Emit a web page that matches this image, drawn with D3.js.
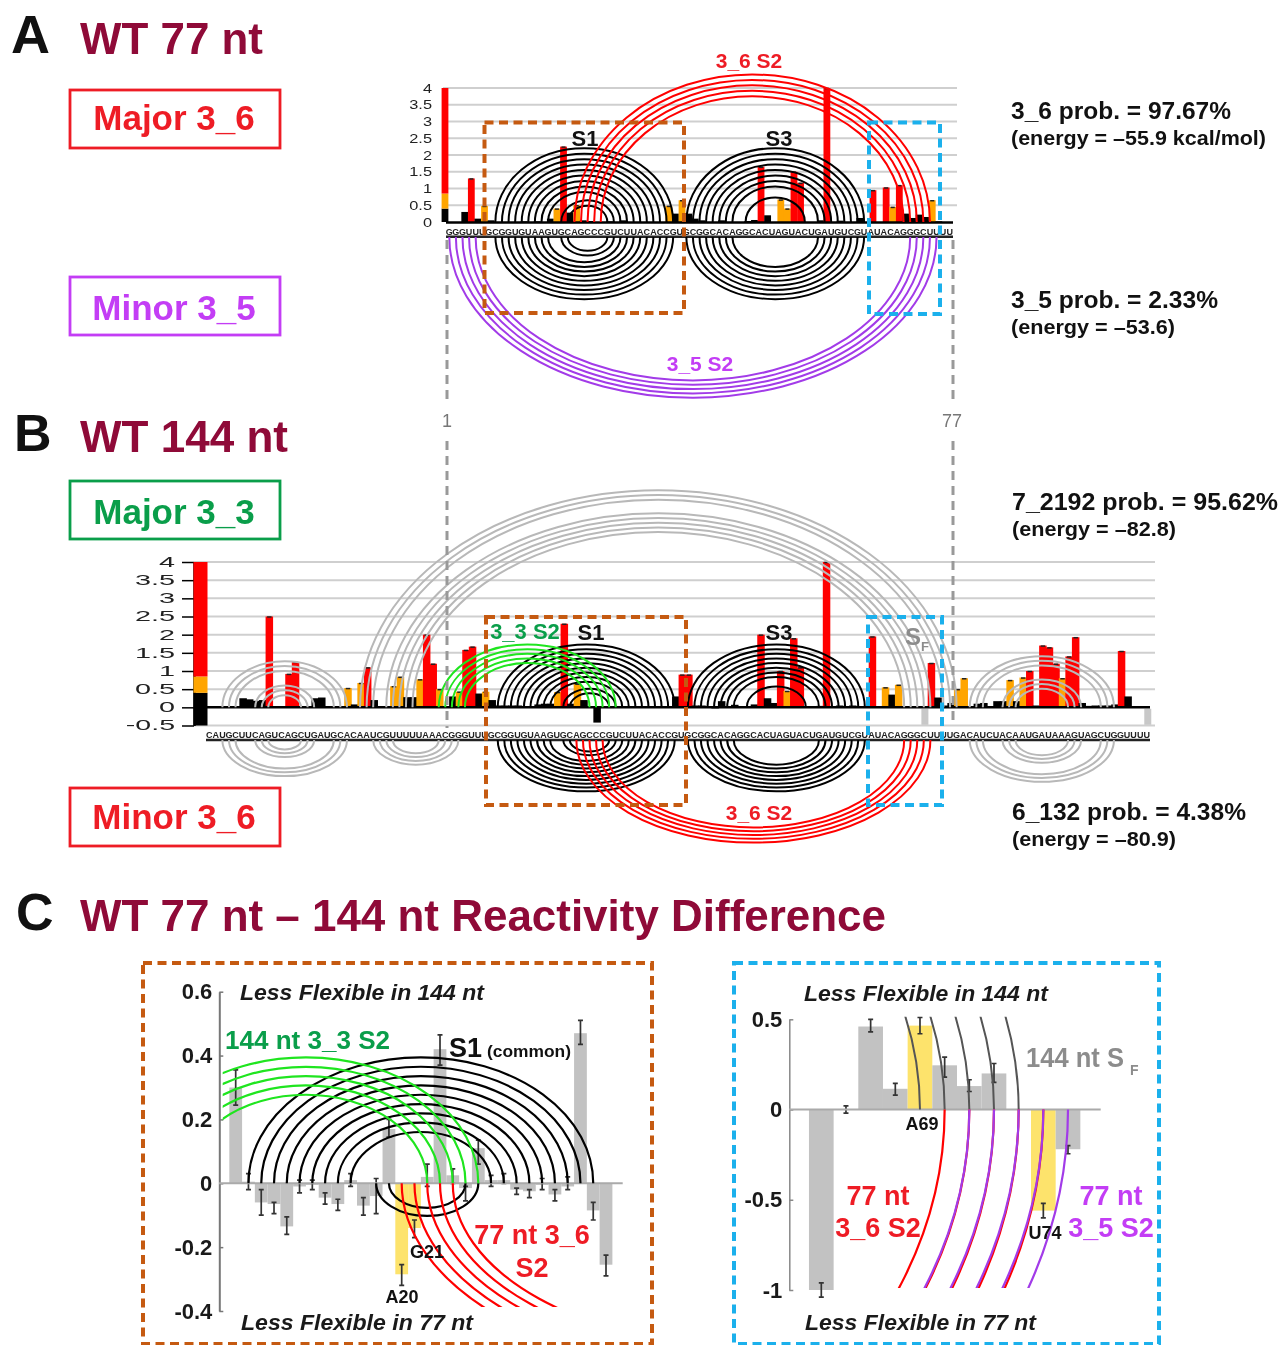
<!DOCTYPE html>
<html><head><meta charset="utf-8">
<script src="https://cdn.jsdelivr.net/npm/d3@7"></script>
<style>
html,body{margin:0;padding:0;background:#fff}
svg{display:block;filter:blur(0.5px)}
text{font-family:"Liberation Sans",Arial,sans-serif}
</style></head><body>
<svg id="c" width="1282" height="1345"></svg>
<script>
// ---------- sequences ----------
const seqPrefix = "CAUGCUUCAGUCAGCUGAUGCACAAUCGUUUUUAAAC";
const seq77 = "GGGUUUGCGGUGUAAGUGCAGCCCGUCUUACACCGUGCGGCACAGGCACUAGUACUGAUGUCGUAUACAGGGCUUUU";
const seqSuffix = "GACAUCUACAAUGAUAAAGUAGCUGGUUUU";
const seq144 = seqPrefix + seq77 + seqSuffix;

// ---------- panel A reactivities (nt, value) ----------
const ntA  = [4,5,6,7,8,13,15,17,18,19,20,21,22,23,26,28,35,36,37,38,39,40,43,47,48,49,50,52,53,54,55,58,59,61,64,66,68,69,70,71,72,73,74,75,76];
const valA = [.3,1.3,.1,.48,.05,.02,.02,.1,.4,2.25,.28,.5,.05,.03,.02,.05,.48,.25,.65,.25,.1,.05,.05,.03,.06,1.65,.2,.67,.4,1.5,1.17,.05,4,.04,.12,.95,1.03,.45,1.1,.25,.12,.22,.15,.65,.02];

// ---------- panel B reactivities (nt, value) ----------
const ntB  = [3,4,7,8,9,10,11,12,13,14,15,18,19,23,24,25,26,27,29,30,31,32,33,34,35,36,37,39,40,41,42,43,44,45,46,47,48,49,52,53,54,55,56,57,58,59,61,63,73,74,75,76,77,79,80,82,85,86,87,88,89,90,91,92,95,96,98,100,103,104,105,106,107,109,110,112,113,114,115,116,117,119,120,122,123,124,125,126,127,128,129,130,131,132,133,134,135,136,137,138,139,140,141,142,143];
const valB = [.02,.02,.25,.22,.18,.2,2.5,.03,.03,.92,1.25,.25,.27,.53,.08,.67,1.1,.2,.02,.58,.84,.28,.28,.77,2,1.2,.5,.3,.43,1.58,1.67,.38,.43,.2,.05,.05,.05,.05,.08,.1,.1,.42,2.3,.1,.65,.2,-.42,-.02,.3,.9,.9,.05,.05,-.03,.17,.07,.08,2,.25,.12,1,.45,1.9,1.1,.04,4,.05,.05,1.95,.02,.55,.35,.62,.02,.02,1.22,.27,.05,.12,.5,.8,.1,.12,.17,.17,.75,.17,.82,1,.05,1.7,1.65,1.2,.8,1.4,1.93,.12,.04,.05,.05,.05,.08,1.55,.3,.02];
const ntBNoData = [111,145];
const valBNoData = [-.48,-.48];

const tickA = [0,.5,1,1.5,2,2.5,3,3.5,4];
const tickB = [-.5,0,.5,1,1.5,2,2.5,3,3.5,4];
const classBreaks = [.4,.85];
const classColors = ["#000","#ffa500","#ff0000"];

// ---------- base pairs (i,j in nt) ----------
const s1Pairs = [[8,35],[9,34],[10,33],[11,32],[12,31],[13,30],[14,29],[15,28],[16,27],[18,26],[19,25]];
const s3Pairs = [[37,64],[38,63],[39,62],[40,61],[41,60],[42,59],[43,58],[44,57]];
const s3Inner = [[46,55]];
const s36Pairs = [[20,74],[21,73],[22,72],[23,71],[24,70]];
const s35Pairs = [[1,75],[2,74],[3,73],[4,72],[5,71]];
const s33Pairs = [[36,63],[37,62],[38,61],[39,60],[40,59]];
const sfOuter  = [[24,115],[25,114],[26,113]];
const sfInner  = [[28,111],[29,110],[30,109],[31,108],[32,107]];
const sfInD    = [[-10,73],[-9,72],[-8,71],[-7,70],[-6,69]];
const leftHelix  = [[3,22],[4,21],[5,20],[8,17],[9,16],[10,15]];
const midHelix   = [[26,39],[27,38],[28,37],[29,36]];
const rightHelix = [[117,139],[118,138],[119,137],[122,134],[123,133],[124,132]];

// ---------- panel C data ----------
const ntC  = d3.range(7,37);
const difC = [.3,.005,-.06,-.065,-.135,-.01,-.005,-.045,-.065,.01,-.07,-.04,.17,-.285,-.14,.02,.42,.025,-.015,.11,.01,.01,-.02,-.025,-.005,-.035,-.01,.47,-.085,-.255];
const loC  = [.245,-.02,-.1,-.095,-.16,-.03,-.02,-.065,-.085,-.01,-.1,-.095,.145,-.32,-.17,-.01,.37,0,-.055,.06,-.01,0,-.035,-.045,-.02,-.055,-.02,.435,-.115,-.29];
const hiC  = [.355,.03,-.02,-.06,-.105,.01,.01,-.03,-.05,.03,-.045,.015,.2,-.255,-.115,.06,.465,.045,-.01,.135,.025,.03,-.015,-.02,.015,-.02,.02,.51,-.06,-.225];
const hiliteC = [20,21];
const ntD  = [65,66,67,68,69,70,71,72,74,75];
const difD = [-1,0,.46,.115,.465,.245,.13,.2,-.56,-.22];
const loD  = [-1.04,-.02,.43,.08,.42,.18,.1,.15,-.6,-.245];
const hiD  = [-.96,.02,.5,.145,.51,.29,.165,.255,-.52,-.2];
const hiliteD = [69,74];
const tickC = [-.4,-.2,0,.2,.4,.6];
const tickD = [-1,-.5,0,.5];

// ---------- helpers ----------
const svg = d3.select("#c");
const defs = svg.append("defs");
const clip = (id,x,y,w,h)=>defs.append("clipPath").attr("id",id).append("rect").attr("x",x).attr("y",y).attr("width",w).attr("height",h);
clip("cl",222.7,900,500,407);
clip("cr",222.7,900,500,407);
clip("dg",700,1016.7,500,200);
clip("dr",700,1100,500,188);

function label(x,y,t,o={}){
  const e = svg.append("text").attr("x",x).attr("y",y).text(t)
    .attr("font-size",o.size||20).attr("fill",o.color||"#111")
    .attr("font-weight",o.weight||"bold").attr("text-anchor",o.anchor||"start");
  if(o.italic) e.attr("font-style","italic");
  if(o.len) e.attr("textLength",o.len).attr("lengthAdjust","spacingAndGlyphs");
  return e;
}
function arcs(g,pairs,x,baseY,ratio,dir,color,w,clipId){
  const p = g.append("g");
  if(clipId) p.attr("clip-path",`url(#${clipId})`);
  p.selectAll("path").data(pairs).join("path")
   .attr("d",d=>{
     const a=x(d[0]),b=x(d[1]),rx=(b-a)/2,ry=rx*ratio;
     return `M${a},${baseY}A${rx},${ry} 0 0 ${dir<0?1:0} ${b},${baseY}`;
   }).attr("fill","none").attr("stroke",color).attr("stroke-width",w);
}
const colorOf = v => classColors[d3.bisect(classBreaks,v)];
function tickLen(d,size,st){
  const s=String(d);let n=0;
  for(const c of s) n+= c==="."?.318:c==="-"?.361:.636;
  return n*size*st;
}
function yAxis(g,y,ticks,x0,o){
  const ax = d3.axisLeft(y).tickValues(ticks).tickFormat(d=>String(d))
     .tickSize(o.tick).tickSizeOuter(0).tickPadding(o.pad);
  const a = g.append("g").attr("transform",`translate(${x0},0)`).call(ax);
  a.selectAll("text").attr("font-family",o.family).attr("font-size",o.size)
    .attr("font-weight",o.weight||"normal").attr("fill",o.fill||"#222");
  if(o.stretch) a.selectAll("text").attr("textLength",d=>tickLen(d,o.size,o.stretch)).attr("lengthAdjust","spacingAndGlyphs");
  a.select(".domain").attr("stroke",o.dom||"none").attr("stroke-width",o.domW||1);
  a.selectAll(".tick line").attr("stroke",o.tickC||"#000").attr("stroke-width",o.tickW||1);
  return a;
}
function drawBars(g,nts,vals,x,y,shift,w){
  const d = nts.map((n,i)=>({n,v:vals[i]}));
  g.selectAll(null).data(d).join("rect")
   .attr("x",e=>x(e.n)-shift-w/2).attr("width",w)
   .attr("y",e=>y(Math.max(e.v,0))).attr("height",e=>Math.abs(y(e.v)-y(0)))
   .attr("fill",e=>colorOf(e.v));
  g.selectAll(null).data(d.filter(e=>e.v>=.4)).join("line")
   .attr("x1",e=>x(e.n)-shift-w*.3).attr("x2",e=>x(e.n)-shift+w*.3)
   .attr("y1",e=>y(e.v)+.5).attr("y2",e=>y(e.v)+.5).attr("stroke","#222").attr("stroke-width",1.5);
}
function stacked(g,pos,x,y,shift,w,lo,top){
  const b=[lo,classBreaks[0],classBreaks[1],top];
  classColors.forEach((c,i)=>g.append("rect").attr("x",x(pos)-shift-w/2).attr("width",w)
    .attr("y",y(b[i+1])).attr("height",y(b[i])-y(b[i+1])).attr("fill",c));
}
function letters(g,seq,x,y){
  g.selectAll(null).data(Array.from(seq)).join("text")
   .attr("x",(d,i)=>x(i+1)).attr("y",y).attr("text-anchor","middle")
   .attr("font-size",9).attr("font-weight","bold").attr("fill","#222").text(d=>d);
}
function dashRect(x0,y0,x1,y1,c,w=4){
  svg.append("rect").attr("x",x0).attr("y",y0).attr("width",x1-x0).attr("height",y1-y0)
   .attr("fill","none").attr("stroke",c).attr("stroke-width",w).attr("stroke-dasharray","9 5.5");
}
function vdash(x,y0,y1){
  svg.append("line").attr("x1",x).attr("x2",x).attr("y1",y0).attr("y2",y1)
   .attr("stroke","#999").attr("stroke-width",3).attr("stroke-dasharray","9 6");
}
const RED="#ff0000",PUR="#a23be8",BLK="#000",GRN="#1fe51f",GRY="#b8b8b8";
const BROWN="#c55a11",BLUE="#1bb0ec",CRIM="#8f0a38";

// ---------- panel A ----------
const gA = svg.append("g");
const xA = d3.scaleLinear().domain([.5,77.5]).range([446,953]);
const yA = d3.scaleLinear().domain([0,4]).range([222,88]);
gA.selectAll(null).data(tickA.filter(d=>d>0)).join("line")
  .attr("x1",443).attr("x2",957).attr("y1",d=>yA(d)).attr("y2",d=>yA(d)).attr("stroke","#cfcfcf").attr("stroke-width",2);
yAxis(gA,yA,tickA,443,{tick:0,pad:11,family:"DejaVu Sans",size:13,stretch:1.1});
const bA = gA.append("g");
drawBars(bA,ntA,valA,xA,yA,4.3,6.8);
stacked(bA,1,xA,yA,4.3,6.8,0,4);
gA.append("line").attr("x1",446).attr("x2",953).attr("y1",222.5).attr("y2",222.5).attr("stroke","#000").attr("stroke-width",2.5);
gA.append("line").attr("x1",446).attr("x2",953).attr("y1",236.8).attr("y2",236.8).attr("stroke","#222").attr("stroke-width",2.5);
letters(gA,seq77,xA,235);
const at=.83, ab=.7;
arcs(gA,s1Pairs,xA,222,at,-1,BLK,2);
arcs(gA,s3Pairs.concat(s3Inner),xA,222,at,-1,BLK,2);
arcs(gA,s36Pairs,xA,222,at,-1,RED,2);
arcs(gA,s1Pairs,xA,237,ab,1,BLK,2);
arcs(gA,s3Pairs,xA,237,ab,1,BLK,2);
arcs(gA,s35Pairs,xA,237,.66,1,PUR,2);

// ---------- panel B ----------
const gB = svg.append("g");
const xB = d3.scaleLinear().domain([.5,144.5]).range([206,1150]);
const yB = d3.scaleLinear().domain([-.5,4]).range([725.5,562]);
gB.selectAll(null).data(tickB.filter(d=>d!==0)).join("line")
  .attr("x1",194).attr("x2",1155).attr("y1",d=>yB(d)).attr("y2",d=>yB(d)).attr("stroke","#cfcfcf").attr("stroke-width",2);
yAxis(gB,yB,tickB,194,{tick:12,pad:7,family:"DejaVu Sans",size:14,stretch:1.8,dom:"#000",domW:2.5,tickW:1.5});
const bB = gB.append("g");
drawBars(bB,ntB,valB,xB,yB,5.5,7.5);
stacked(bB,.5,xB,yB,5.5,14,-.5,4);
bB.selectAll(null).data(ntBNoData).join("rect")
  .attr("x",d=>xB(d)-5.5-3.5).attr("width",7).attr("y",yB(-.04))
  .attr("height",(d,i)=>yB(valBNoData[i])-yB(-.04)).attr("fill","#c8c8c8");
gB.append("line").attr("x1",194).attr("x2",1150).attr("y1",yB(0)).attr("y2",yB(0)).attr("stroke","#000").attr("stroke-width",2.5);
gB.append("line").attr("x1",206).attr("x2",1150).attr("y1",740).attr("y2",740).attr("stroke","#222").attr("stroke-width",2.5);
letters(gB,seq144,xB,738);
const bt=.71, bb=.58;
const off = 37, shiftP = p=>p.map(([i,j])=>[i+off,j+off]);
arcs(gB,sfOuter,xB,yB(0),.728,-1,GRY,2);
arcs(gB,sfInner,xB,yB(0),.713,-1,GRY,2);
arcs(gB,leftHelix,xB,yB(0),bt+.03,-1,GRY,2);
arcs(gB,rightHelix,xB,yB(0),bt,-1,GRY,2);
arcs(gB,shiftP(s1Pairs),xB,yB(0),bt,-1,BLK,2);
arcs(gB,shiftP(s3Pairs.concat(s3Inner)),xB,yB(0),bt,-1,BLK,2);
arcs(gB,s33Pairs,xB,yB(0),bt,-1,GRN,2);
arcs(gB,leftHelix,xB,740,bb,1,GRY,2);
arcs(gB,midHelix,xB,740,bb,1,GRY,2);
arcs(gB,rightHelix,xB,740,bb,1,GRY,2);
arcs(gB,shiftP(s1Pairs),xB,740,bb,1,BLK,2);
arcs(gB,shiftP(s3Pairs),xB,740,bb,1,BLK,2);
arcs(gB,shiftP(s36Pairs),xB,740,bb,1,RED,2);

// dashed guides
vdash(447,240,402); vdash(447,441,728);
vdash(953,240,402); vdash(953,441,724);
dashRect(484.5,122.5,684,313,BROWN); dashRect(869,122.5,940,314,BLUE);
dashRect(486,617,686,805,BROWN); dashRect(868,617,942,805,BLUE);

// ---------- panel C ----------
function diffPanel(g,nts,dif,lo,hi,hil,x,y,w,gray){
  const d=nts.map((n,i)=>({n,v:dif[i],lo:lo[i],hi:hi[i]}));
  g.selectAll(null).data(d).join("rect")
   .attr("x",e=>x(e.n)-w/2).attr("width",w)
   .attr("y",e=>y(Math.max(e.v,0))).attr("height",e=>Math.abs(y(e.v)-y(0)))
   .attr("fill",e=>hil.includes(e.n)?"#fde36c":gray);
  const p=g.append("g").attr("stroke","#333").attr("stroke-width",1.7);
  p.selectAll(null).data(d).join("path")
   .attr("d",e=>`M${x(e.n)-2.5},${y(e.hi)}h5M${x(e.n)},${y(e.hi)}V${y(e.lo)}M${x(e.n)-2.5},${y(e.lo)}h5`).attr("fill","none");
}
const gC = svg.append("g");
const xC = d3.scaleLinear().domain([7,36]).range([235.7,606]);
const yC = d3.scaleLinear().domain([-.4,.6]).range([1311,991.7]);
diffPanel(gC,ntC,difC,loC,hiC,hiliteC,xC,yC,12.77,"#c2c2c2");
yAxis(gC,yC,tickC,219.3,{tick:-4,pad:7,family:"Liberation Sans",size:22,weight:"bold",dom:"#777",domW:2,tickC:"#777",tickW:1.5,fill:"#1a1a1a"});
gC.append("line").attr("x1",219).attr("x2",622.7).attr("y1",yC(0)).attr("y2",yC(0)).attr("stroke","#aaa").attr("stroke-width",2);
arcs(gC,s1Pairs.slice(0,9),xC,yC(0),.73,-1,BLK,2.2);
arcs(gC,s1Pairs.slice(9),xC,yC(0),.64,1,BLK,2.2);
const s33InC = s33Pairs.map(([i,j])=>[i-off,j-off]);
arcs(gC,s33InC,xC,yC(0),.73,-1,GRN,2.2,"cl");
arcs(gC,s36Pairs,xC,yC(0),.555,1,RED,2.2,"cr");

const gD = svg.append("g");
const xD = d3.scaleLinear().domain([65,75]).range([821.3,1068]);
const yD = d3.scaleLinear().domain([-1,.5]).range([1290,1019.3]);
diffPanel(gD,ntD,difD,loD,hiD,hiliteD,xD,yD,24.67,"#c2c2c2");
yAxis(gD,yD,tickD,789.3,{tick:-4,pad:7,family:"Liberation Sans",size:22,weight:"bold",dom:"#888",domW:1.5,tickC:"#888",tickW:1.5,fill:"#1a1a1a"});
gD.append("line").attr("x1",789).attr("x2",1100.7).attr("y1",yD(0)).attr("y2",yD(0)).attr("stroke","#aaa").attr("stroke-width",2);
arcs(gD,sfInD,xD,yD(0),.565,-1,"#555",2,"dg");
arcs(gD,s36Pairs,xD,yD(0),.8,1,RED,2.2,"dr");
arcs(gD,s35Pairs,xD,yD(0),.67,1,PUR,2.2,"dr");

dashRect(143,963,652,1344,BROWN,4);
dashRect(734,963,1159,1344,BLUE,4);

// ---------- labels ----------
function box(x,y,t,c,base){
  svg.append("rect").attr("x",x).attr("y",y).attr("width",210).attr("height",58)
    .attr("fill","#fff").attr("stroke",c).attr("stroke-width",2.8);
  label(174,base,t,{size:35,color:c,anchor:"middle"});
}
box(70,90,"Major 3_6","#ee1c25",130);
box(70,277,"Minor 3_5","#c33df5",320);
box(70,481,"Major 3_3","#0a9e4a",524);
box(70,788,"Minor 3_6","#ee1c25",829);

label(11,53,"A",{size:54,color:"#111"});
label(14,451,"B",{size:52,color:"#111"});
label(16,930,"C",{size:52,color:"#111"});
label(80,54,"WT 77 nt",{size:44,color:CRIM,len:183});
label(80,452,"WT 144 nt",{size:44,color:CRIM,len:208});
label(80,931,"WT 77 nt – 144 nt Reactivity Difference",{size:44,color:CRIM,len:806});

label(1011,119,"3_6 prob. = 97.67%",{size:24,len:220});
label(1011,145,"(energy = –55.9 kcal/mol)",{size:20,len:255});
label(1011,308,"3_5 prob. = 2.33%",{size:24,len:207});
label(1011,334,"(energy = –53.6)",{size:20,len:164});
label(1012,510,"7_2192 prob. = 95.62%",{size:24,len:266});
label(1012,536,"(energy = –82.8)",{size:20,len:164});
label(1012,820,"6_132 prob. = 4.38%",{size:24,len:234});
label(1012,846,"(energy = –80.9)",{size:20,len:164});

label(749,68,"3_6 S2",{size:21,color:"#ee1c25",anchor:"middle"});
label(700,371,"3_5 S2",{size:21,color:"#c33df5",anchor:"middle"});
label(585,146,"S1",{size:22,anchor:"middle"});
label(779,146,"S3",{size:22,anchor:"middle"});
label(525,639,"3_3 S2",{size:22,color:"#0a9e4a",anchor:"middle"});
label(591,640,"S1",{size:22,anchor:"middle"});
label(779,640,"S3",{size:22,anchor:"middle"});
label(759,820,"3_6 S2",{size:21,color:"#ee1c25",anchor:"middle"});
label(905,645,"S",{size:24,color:"#8c8c8c"});
label(921,651,"F",{size:13,color:"#8c8c8c"});
label(447,427,"1",{size:18,color:"#777",anchor:"middle",weight:"normal"});
label(952,427,"77",{size:18,color:"#777",anchor:"middle",weight:"normal"});

const lf={size:22,italic:true,color:"#1a1a1a"};
label(240,1000,"Less Flexible in 144 nt",{...lf,len:244});
label(241,1330,"Less Flexible in 77 nt",{...lf,len:232});
label(804,1001,"Less Flexible in 144 nt",{...lf,len:244});
label(805,1330,"Less Flexible in 77 nt",{...lf,len:231});

label(225,1049,"144 nt 3_3 S2",{size:26,color:"#0a9e4a",len:165});
label(449,1057,"S1",{size:27});
label(487,1057,"(common)",{size:17,len:84});
label(532,1244,"77 nt 3_6",{size:27,color:"#ee1c25",anchor:"middle"});
label(532,1277,"S2",{size:27,color:"#ee1c25",anchor:"middle"});
label(427,1258,"G21",{size:18,anchor:"middle"});
label(402,1303,"A20",{size:18,anchor:"middle"});
label(922,1130,"A69",{size:18,anchor:"middle"});
label(1045,1239,"U74",{size:18,anchor:"middle"});
label(1026,1067,"144 nt S",{size:27,color:"#8c8c8c",len:98});
label(1130,1075,"F",{size:14,color:"#8c8c8c"});
label(878,1205,"77 nt",{size:27,color:"#ee1c25",anchor:"middle"});
label(878,1237,"3_6 S2",{size:27,color:"#ee1c25",anchor:"middle"});
label(1111,1205,"77 nt",{size:27,color:"#c33df5",anchor:"middle"});
label(1111,1237,"3_5 S2",{size:27,color:"#c33df5",anchor:"middle"});
</script></body></html>
